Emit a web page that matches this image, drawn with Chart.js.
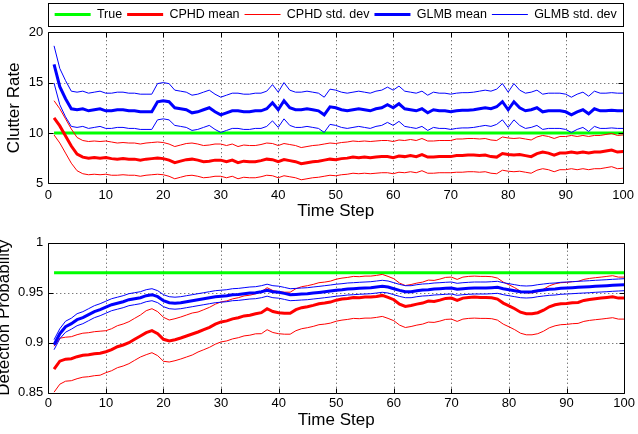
<!DOCTYPE html>
<html>
<head>
<meta charset="utf-8">
<script src="https://cdn.jsdelivr.net/npm/chart.js@4.4.1/dist/chart.umd.min.js"></script>
<style>
  html, body { margin: 0; padding: 0; background: #fff; }
  body { width: 638px; height: 434px; position: relative; overflow: hidden; }
  canvas { position: absolute; left: 0; }
  #clutterChart { top: 0; }
  #pdChart { top: 212px; }
</style>
</head>
<body>
<canvas id="clutterChart" width="638" height="222"></canvas>
<canvas id="pdChart" width="638" height="222"></canvas>
<script>
// time steps 1..100
const steps = Array.from({ length: 100 }, (_, i) => i + 1);
const xTicks = [0, 10, 20, 30, 40, 50, 60, 70, 80, 90, 100];
const clutterTicks = [5, 10, 15, 20];
const pdTicks = [0.85, 0.9, 0.95, 1];

// true values (flat lines from step 1 to 100)
const trueSteps = [1, 100];
const trueClutter = [10, 10];
const truePd = [0.97, 0.97];

// clutter rate estimates
const clutterCphdMean = [
  11.5, 10.7, 9.7, 8.7, 7.9, 7.6, 7.5, 7.55, 7.5, 7.55,
  7.45, 7.4, 7.45, 7.4, 7.4, 7.3, 7.4, 7.45, 7.5, 7.45,
  7.3, 7.05, 7.2, 7.35, 7.4, 7.3, 7.15, 7.2, 7.3, 7.3,
  7.15, 7.3, 7.05, 7.2, 7.15, 7.15, 7.25, 7.4, 7.35, 7.15,
  7.35, 7.25, 7.15, 6.95, 7.05, 7.15, 7.2, 7.3, 7.4, 7.35,
  7.45, 7.5, 7.6, 7.55, 7.6, 7.55, 7.6, 7.65, 7.65, 7.55,
  7.7, 7.65, 7.75, 7.65, 7.85, 7.6, 7.6, 7.65, 7.65, 7.65,
  7.75, 7.75, 7.8, 7.8, 7.75, 7.8, 7.65, 7.6, 7.95, 7.85,
  7.8, 7.85, 7.75, 7.65, 7.95, 8.1, 8.0, 7.8, 8.0, 8.0,
  8.1, 8.0, 8.1, 8.0, 8.1, 8.1, 8.2, 8.3, 8.1, 8.15
];
const clutterCphdSd = [
  1.7, 1.7, 1.7, 1.7, 1.65, 1.65, 1.65, 1.65, 1.65, 1.65,
  1.65, 1.6, 1.6, 1.6, 1.6, 1.6, 1.6, 1.6, 1.6, 1.6,
  1.6, 1.6, 1.6, 1.6, 1.6, 1.6, 1.6, 1.6, 1.6, 1.6,
  1.6, 1.6, 1.6, 1.6, 1.6, 1.6, 1.6, 1.6, 1.6, 1.6,
  1.6, 1.6, 1.6, 1.6, 1.6, 1.6, 1.6, 1.6, 1.6, 1.6,
  1.6, 1.6, 1.6, 1.6, 1.6, 1.6, 1.6, 1.6, 1.6, 1.6,
  1.6, 1.6, 1.6, 1.6, 1.6, 1.6, 1.6, 1.6, 1.6, 1.6,
  1.65, 1.65, 1.65, 1.65, 1.65, 1.65, 1.65, 1.65, 1.65, 1.65,
  1.65, 1.65, 1.65, 1.65, 1.65, 1.65, 1.65, 1.65, 1.65, 1.65,
  1.65, 1.65, 1.65, 1.65, 1.65, 1.65, 1.65, 1.65, 1.65, 1.65
];
const clutterGlmbMean = [
  16.8, 14.6, 13.4, 12.4, 12.3, 12.4, 12.2, 12.3, 12.4, 12.2,
  12.2, 12.3, 12.3, 12.2, 12.2, 12.1, 12.1, 12.1, 13.1, 13.2,
  13.1, 12.5, 12.4, 12.3, 12.0, 12.1, 12.3, 12.5, 12.1, 11.8,
  12.0, 12.2, 12.2, 12.1, 12.1, 12.2, 12.2, 12.4, 13.0, 12.3,
  13.2, 12.5, 12.3, 12.3, 12.4, 12.3, 12.2, 11.8, 12.6, 12.5,
  12.3, 12.2, 12.3, 12.4, 12.3, 12.2, 12.4, 12.5, 12.8, 12.5,
  12.9, 12.4, 12.3, 12.2, 12.4, 12.0, 12.3, 12.2, 12.2, 12.1,
  12.2, 12.25, 12.25, 12.3, 12.4, 12.5, 12.4, 12.6, 13.1, 12.3,
  13.1, 12.5, 12.2, 12.3, 12.5, 12.1, 12.2, 12.2, 12.2, 12.1,
  11.8, 12.1, 12.3, 11.9, 12.4, 12.2, 12.2, 12.25, 12.2, 12.2
];
const clutterGlmbSd = [
  1.85, 1.8, 1.8, 1.75, 1.75, 1.75, 1.75, 1.75, 1.75, 1.75,
  1.75, 1.75, 1.75, 1.75, 1.75, 1.75, 1.75, 1.75, 1.8, 1.8,
  1.8, 1.75, 1.75, 1.75, 1.75, 1.75, 1.75, 1.75, 1.75, 1.75,
  1.75, 1.75, 1.75, 1.75, 1.75, 1.75, 1.75, 1.75, 1.8, 1.75,
  1.8, 1.75, 1.75, 1.75, 1.75, 1.75, 1.75, 1.75, 1.75, 1.75,
  1.75, 1.75, 1.75, 1.75, 1.75, 1.75, 1.75, 1.75, 1.75, 1.75,
  1.75, 1.75, 1.75, 1.75, 1.75, 1.75, 1.75, 1.75, 1.75, 1.75,
  1.75, 1.75, 1.75, 1.75, 1.75, 1.75, 1.75, 1.75, 1.8, 1.75,
  1.8, 1.75, 1.75, 1.75, 1.75, 1.75, 1.75, 1.75, 1.75, 1.75,
  1.75, 1.75, 1.75, 1.75, 1.75, 1.75, 1.75, 1.75, 1.75, 1.75
];

// detection probability estimates
const pdCphdMean = [
  0.8735, 0.8815, 0.8835, 0.884, 0.886, 0.8875, 0.888, 0.889, 0.8895, 0.891,
  0.893, 0.896, 0.8977, 0.9, 0.9034, 0.9067, 0.91, 0.912, 0.909, 0.9034,
  0.9017, 0.903, 0.9047, 0.9067, 0.9087, 0.9107, 0.913, 0.9154, 0.9185, 0.9208,
  0.9218, 0.9238, 0.925, 0.9268, 0.9275, 0.9289, 0.93, 0.934, 0.9312, 0.93,
  0.9295, 0.9295, 0.933, 0.935, 0.936, 0.9373, 0.939, 0.9396, 0.9406, 0.9425,
  0.9436, 0.9443, 0.9453, 0.945, 0.9456, 0.9456, 0.9463, 0.9473, 0.9453, 0.943,
  0.9386, 0.9362, 0.9372, 0.9386, 0.9396, 0.9416, 0.9413, 0.9426, 0.9443, 0.9446,
  0.9423, 0.9446, 0.9453, 0.9456, 0.9453, 0.9453, 0.945, 0.9436, 0.9396, 0.9369,
  0.934, 0.9305, 0.9289, 0.9289, 0.93, 0.9325, 0.9359, 0.9379, 0.939, 0.9393,
  0.94, 0.9403, 0.9423, 0.9433, 0.944, 0.9446, 0.9453, 0.946, 0.9446, 0.9446
];
const pdCphdSd = [
  0.023, 0.023, 0.022, 0.022, 0.022, 0.022, 0.022, 0.022, 0.022, 0.021,
  0.021, 0.021, 0.021, 0.021, 0.021, 0.021, 0.022, 0.022, 0.022, 0.022,
  0.021, 0.021, 0.021, 0.021, 0.021, 0.02, 0.02, 0.02, 0.02, 0.02,
  0.02, 0.02, 0.02, 0.02, 0.02, 0.02, 0.021, 0.021, 0.021, 0.021,
  0.021, 0.021, 0.021, 0.021, 0.021, 0.021, 0.021, 0.021, 0.021, 0.021,
  0.021, 0.021, 0.021, 0.021, 0.021, 0.021, 0.021, 0.021, 0.021, 0.021,
  0.021, 0.021, 0.021, 0.021, 0.021, 0.021, 0.021, 0.021, 0.021, 0.021,
  0.021, 0.021, 0.021, 0.021, 0.021, 0.021, 0.021, 0.021, 0.021, 0.021,
  0.021, 0.021, 0.021, 0.021, 0.021, 0.021, 0.021, 0.021, 0.021, 0.021,
  0.021, 0.021, 0.021, 0.021, 0.021, 0.021, 0.021, 0.021, 0.021, 0.021
];
const pdGlmbMean = [
  0.898, 0.909, 0.916, 0.919, 0.923, 0.925, 0.928, 0.931, 0.933, 0.9355,
  0.938, 0.9395, 0.941, 0.943, 0.944, 0.945, 0.947, 0.948, 0.946, 0.942,
  0.94, 0.9395, 0.94, 0.941, 0.942, 0.943, 0.944, 0.945, 0.946, 0.9465,
  0.947, 0.948, 0.9483, 0.949, 0.9497, 0.95, 0.951, 0.9525, 0.951, 0.9505,
  0.9493, 0.948, 0.9483, 0.9487, 0.949, 0.9497, 0.9503, 0.951, 0.9517, 0.9525,
  0.953, 0.9537, 0.954, 0.9544, 0.9547, 0.955, 0.9557, 0.9564, 0.9557, 0.954,
  0.9523, 0.951, 0.951, 0.952, 0.9527, 0.953, 0.9537, 0.954, 0.9544, 0.9547,
  0.9534, 0.954, 0.9544, 0.9547, 0.9547, 0.9547, 0.955, 0.9554, 0.954, 0.953,
  0.952, 0.951, 0.9507, 0.951, 0.952, 0.9527, 0.9534, 0.9537, 0.9544, 0.9547,
  0.955, 0.9554, 0.9557, 0.956, 0.9564, 0.9567, 0.957, 0.9574, 0.9577, 0.958
];
const pdGlmbSd = [
  0.005, 0.005, 0.0055, 0.0055, 0.006, 0.006, 0.006, 0.006, 0.006, 0.006,
  0.006, 0.006, 0.006, 0.006, 0.006, 0.006, 0.006, 0.006, 0.006, 0.006,
  0.006, 0.006, 0.006, 0.006, 0.006, 0.006, 0.006, 0.006, 0.006, 0.006,
  0.006, 0.006, 0.006, 0.006, 0.006, 0.006, 0.006, 0.006, 0.006, 0.006,
  0.006, 0.006, 0.006, 0.006, 0.006, 0.006, 0.006, 0.006, 0.006, 0.006,
  0.006, 0.006, 0.006, 0.006, 0.006, 0.006, 0.006, 0.006, 0.006, 0.006,
  0.006, 0.006, 0.006, 0.006, 0.006, 0.006, 0.006, 0.006, 0.006, 0.006,
  0.006, 0.006, 0.006, 0.006, 0.006, 0.006, 0.006, 0.006, 0.006, 0.006,
  0.006, 0.006, 0.006, 0.006, 0.006, 0.006, 0.006, 0.006, 0.006, 0.006,
  0.006, 0.006, 0.006, 0.006, 0.006, 0.006, 0.006, 0.006, 0.006, 0.006
];

Chart.defaults.font.family = '"Liberation Sans", Arial, Helvetica, sans-serif';
Chart.defaults.color = '#000';

function toPoints(xs, ys) {
  return xs.map((x, i) => ({ x: x, y: ys[i] }));
}
function plusSd(mean, sd, sign) {
  return mean.map((m, i) => m + sign * sd[i]);
}

function buildDatasets(trueVals, cphdMean, cphdSd, glmbMean, glmbSd) {
  const line = (label, data, color, width, order) => ({
    label: label, data: data, borderColor: color, backgroundColor: color,
    borderWidth: width, pointRadius: 0, tension: 0, order: order
  });
  return [
    line('True', toPoints(trueSteps, trueVals), '#00ff00', 3, 7),
    line('CPHD mean', toPoints(steps, cphdMean), '#ff0000', 3, 6),
    line('CPHD std. dev', toPoints(steps, plusSd(cphdMean, cphdSd, 1)), '#ff0000', 1, 5),
    line('GLMB mean', toPoints(steps, glmbMean), '#0000ff', 3, 3),
    line('GLMB std. dev', toPoints(steps, plusSd(glmbMean, glmbSd, 1)), '#0000ff', 1, 2),
    line('CPHD std. dev', toPoints(steps, plusSd(cphdMean, cphdSd, -1)), '#ff0000', 1, 4),
    line('GLMB std. dev', toPoints(steps, plusSd(glmbMean, glmbSd, -1)), '#0000ff', 1, 1)
  ];
}

// dotted grid, black box and inward tick marks like the original figure
const matlabAxes = {
  id: 'matlabAxes',
  beforeDatasetsDraw(chart) {
    const { ctx, chartArea: a, scales } = chart;
    ctx.save();
    ctx.strokeStyle = '#444';
    ctx.lineWidth = 1;
    ctx.setLineDash([1, 3]);
    ctx.beginPath();
    scales.x.ticks.forEach(t => {
      const px = Math.round(scales.x.getPixelForValue(t.value)) + 0.5;
      if (px <= a.left + 2 || px >= a.right - 2) return;
      ctx.moveTo(px, a.top); ctx.lineTo(px, a.bottom);
    });
    scales.y.ticks.forEach(t => {
      const py = Math.round(scales.y.getPixelForValue(t.value)) + 0.5;
      if (py <= a.top + 2 || py >= a.bottom - 2) return;
      ctx.moveTo(a.left, py); ctx.lineTo(a.right, py);
    });
    ctx.stroke();
    ctx.restore();
  },
  afterDatasetsDraw(chart) {
    const { ctx, chartArea: a, scales } = chart;
    const L = Math.round(a.left) + 0.5, R = Math.round(a.right) + 0.5;
    const T = Math.round(a.top) + 0.5, B = Math.round(a.bottom) + 0.5;
    ctx.save();
    ctx.strokeStyle = '#000';
    ctx.lineWidth = 1;
    ctx.beginPath();
    ctx.rect(L, T, R - L, B - T);
    scales.x.ticks.forEach(t => {
      const px = Math.round(scales.x.getPixelForValue(t.value)) + 0.5;
      ctx.moveTo(px, B); ctx.lineTo(px, B - 5);
      ctx.moveTo(px, T); ctx.lineTo(px, T + 5);
    });
    scales.y.ticks.forEach(t => {
      const py = Math.round(scales.y.getPixelForValue(t.value)) + 0.5;
      ctx.moveTo(L, py); ctx.lineTo(L + 5, py);
      ctx.moveTo(R, py); ctx.lineTo(R - 5, py);
    });
    ctx.stroke();
    ctx.restore();
  }
};

// frame around the legend, and a little extra gap under it
const legendFrame = {
  id: 'legendFrame',
  afterInit(chart) {
    const lg = chart.legend;
    if (!lg) return;
    const origFit = lg.fit;
    lg.fit = function () {
      origFit.call(this);
      this.height += 1.5;
    };
  },
  afterDraw(chart) {
    const lg = chart.legend;
    if (!lg || !lg.legendHitBoxes.length) return;
    const hb = lg.legendHitBoxes[0];
    const a = chart.chartArea;
    const top = Math.round(hb.top - 5.5) + 0.5;
    const bottom = Math.round(hb.top + hb.height + 5.5) + 0.5;
    const { ctx } = chart;
    ctx.save();
    ctx.strokeStyle = '#000';
    ctx.lineWidth = 1;
    ctx.strokeRect(Math.round(a.left) + 0.5, top, Math.round(a.right) - Math.round(a.left), bottom - top);
    ctx.restore();
  }
};

function axisOptions(yTicks, yMin, yMax, yTitle, yTitlePad, xTitlePad, xTickPad, xHeight) {
  return {
    x: {
      type: 'linear', min: 0, max: 100,
      afterBuildTicks: s => { s.ticks = xTicks.map(v => ({ value: v })); },
      afterFit: s => { s.height = xHeight; },
      grid: { display: false, drawTicks: false },
      border: { display: false },
      ticks: { font: { size: 13 }, padding: xTickPad, maxRotation: 0, callback: v => String(v) },
      title: { display: true, text: 'Time Step', font: { size: 17 }, padding: { top: 0, bottom: xTitlePad } }
    },
    y: {
      type: 'linear', min: yMin, max: yMax,
      afterBuildTicks: s => { s.ticks = yTicks.map(v => ({ value: v })); },
      afterFit: s => { s.width = 48.3; },
      grid: { display: false, drawTicks: false },
      border: { display: false },
      ticks: { font: { size: 13 }, padding: 5, callback: v => String(v) },
      title: { display: true, text: yTitle, font: { size: 17 }, padding: { top: yTitlePad, bottom: 0 } }
    }
  };
}

const clutterChart = new Chart(document.getElementById('clutterChart'), {
  type: 'line',
  data: { datasets: buildDatasets(trueClutter, clutterCphdMean, clutterCphdSd, clutterGlmbMean, clutterGlmbSd) },
  options: {
    responsive: false,
    animation: false,
    layout: { padding: { top: 3.25, right: 11, left: 0, bottom: 0 } },
    plugins: {
      tooltip: { enabled: false },
      legend: {
        position: 'top',
        fullSize: false,
        labels: {
          usePointStyle: true,
          pointStyle: 'line',
          pointStyleWidth: 36,
          padding: 5,
          font: { size: 12.5 },
          filter: item => item.datasetIndex < 5,
          sort: (a, b) => a.datasetIndex - b.datasetIndex
        }
      }
    },
    scales: axisOptions(clutterTicks, 5, 20, 'Clutter Rate', 4.6, 0, 4, 38.7)
  },
  plugins: [matlabAxes, legendFrame]
});

const pdChart = new Chart(document.getElementById('pdChart'), {
  type: 'line',
  data: { datasets: buildDatasets(truePd, pdCphdMean, pdCphdSd, pdGlmbMean, pdGlmbSd) },
  options: {
    responsive: false,
    animation: false,
    layout: { padding: { top: 30.7, right: 11, left: 0, bottom: 0 } },
    plugins: {
      tooltip: { enabled: false },
      legend: { display: false }
    },
    scales: axisOptions(pdTicks, 0.85, 1, 'Detection Probability', -6.1, 3, 3, 41.3)
  },
  plugins: [matlabAxes]
});
</script>
</body>
</html>
